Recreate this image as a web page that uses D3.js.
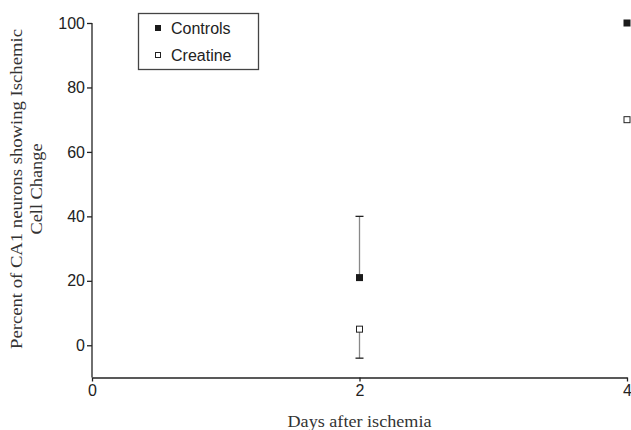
<!DOCTYPE html>
<html>
<head>
<meta charset="utf-8">
<script src="https://d3js.org/d3.v7.min.js"></script>
<style>
  body { margin: 0; background: #fff; }
  svg { display: block; }
</style>
</head>
<body>
<svg id="vis" width="631" height="430"></svg>
<script>
// data
var days = [2, 4];
var controls = [21, 100];
var controlsErr = [19, 0];     // upward error
var creatine = [5, 70];
var creatineErr = [9, 0];      // downward error
var xTicks = [0, 2, 4];
var yTicks = [0, 20, 40, 60, 80, 100];

var svg = d3.select("#vis");

var x = d3.scaleLinear().domain([0, 4]).range([92, 627]);
var y = d3.scaleLinear().domain([-10, 100]).range([377.5, 23]);

// axes
var yAxis = svg.append("g")
    .attr("transform", "translate(92,0)")
    .call(d3.axisLeft(y).tickValues(yTicks).tickSize(5).tickSizeOuter(0));
yAxis.select(".domain").attr("d", "M0," + y(-10) + "V" + y(100)).attr("stroke", "#222").attr("stroke-width", 1.3);
yAxis.selectAll(".tick line").attr("stroke", "#222").attr("stroke-width", 1.3);
yAxis.selectAll(".tick text")
    .attr("font-family", "Liberation Sans, Arial, sans-serif")
    .attr("font-size", 16).attr("fill", "#222").attr("x", -7);

var xAxis = svg.append("g")
    .attr("transform", "translate(0," + y(-10) + ")")
    .call(d3.axisBottom(x).tickValues(xTicks).tickSize(4).tickSizeOuter(0).tickFormat(d3.format("d")));
xAxis.select(".domain").attr("stroke", "#222").attr("stroke-width", 1.3);
xAxis.selectAll(".tick line").attr("stroke", "#222").attr("stroke-width", 1.3);
xAxis.selectAll(".tick text")
    .attr("font-family", "Liberation Sans, Arial, sans-serif")
    .attr("font-size", 16).attr("fill", "#222").attr("y", 7);

// error bars
function errBar(xv, y0, y1) {
  svg.append("line").attr("x1", x(xv)).attr("x2", x(xv))
    .attr("y1", y(y0)).attr("y2", y(y1))
    .attr("stroke", "#888").attr("stroke-width", 1.3);
  svg.append("line").attr("x1", x(xv) - 4).attr("x2", x(xv) + 4)
    .attr("y1", y(y1)).attr("y2", y(y1))
    .attr("stroke", "#222").attr("stroke-width", 1.3);
}
days.forEach(function(d, i) {
  if (controlsErr[i] > 0) errBar(d, controls[i], controls[i] + controlsErr[i]);
  if (creatineErr[i] > 0) errBar(d, creatine[i], creatine[i] - creatineErr[i]);
});

// markers
var s = 7;
svg.selectAll(".ctrl").data(days).enter().append("rect")
    .attr("x", function(d) { return x(d) - s / 2; })
    .attr("y", function(d, i) { return y(controls[i]) - s / 2; })
    .attr("width", s).attr("height", s)
    .attr("fill", "#1a1a1a");
svg.selectAll(".crea").data(days).enter().append("rect")
    .attr("x", function(d) { return x(d) - s / 2 + 0.5; })
    .attr("y", function(d, i) { return y(creatine[i]) - s / 2 + 0.5; })
    .attr("width", s - 1).attr("height", s - 1)
    .attr("fill", "#fff").attr("stroke", "#222").attr("stroke-width", 1);

// legend
var lg = svg.append("g");
lg.append("rect").attr("x", 138.5).attr("y", 13.5).attr("width", 120).attr("height", 56)
    .attr("fill", "#fff").attr("stroke", "#444").attr("stroke-width", 1.3);
lg.append("rect").attr("x", 155).attr("y", 25).attr("width", 6).attr("height", 6).attr("fill", "#1a1a1a");
lg.append("rect").attr("x", 155.5).attr("y", 52.5).attr("width", 5).attr("height", 5)
    .attr("fill", "#fff").attr("stroke", "#222").attr("stroke-width", 1);
lg.append("text").attr("x", 171).attr("y", 34).text("Controls")
    .attr("font-family", "Liberation Sans, Arial, sans-serif").attr("font-size", 16).attr("fill", "#222");
lg.append("text").attr("x", 171).attr("y", 61).text("Creatine")
    .attr("font-family", "Liberation Sans, Arial, sans-serif").attr("font-size", 16).attr("fill", "#222");

// axis titles
var yt = svg.append("text")
    .attr("transform", "translate(22,189) rotate(-90)")
    .attr("text-anchor", "middle")
    .attr("font-family", "Liberation Serif, Times New Roman, serif")
    .attr("font-size", 17).attr("fill", "#333");
yt.append("tspan").attr("x", 0).attr("y", 0)
    .attr("textLength", 320).attr("lengthAdjust", "spacingAndGlyphs")
    .text("Percent of CA1 neurons showing Ischemic");
yt.append("tspan").attr("x", 0).attr("y", 20)
    .attr("textLength", 91).attr("lengthAdjust", "spacingAndGlyphs")
    .text("Cell Change");

svg.append("text").attr("x", 359.5).attr("y", 427)
    .attr("text-anchor", "middle")
    .attr("font-family", "Liberation Serif, Times New Roman, serif")
    .attr("font-size", 16).attr("fill", "#333")
    .attr("textLength", 144).attr("lengthAdjust", "spacingAndGlyphs")
    .text("Days after ischemia");
</script>
</body>
</html>
